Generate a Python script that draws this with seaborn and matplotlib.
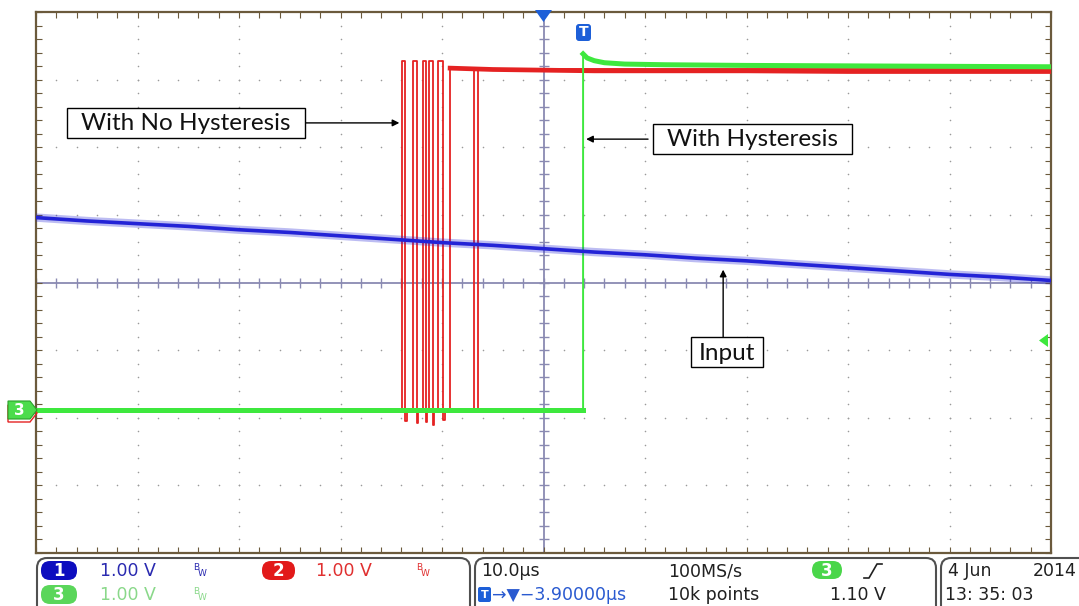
import numpy as np
import pandas as pd
import seaborn as sns
import matplotlib
matplotlib.use("Agg")
import matplotlib.pyplot as plt
from matplotlib.patches import FancyBboxPatch, Polygon, Rectangle

W, H = 1079, 606

# time in us (10 us/div), level in screen divisions (1 V/div)
LOW = -1.88
HIGH = 3.15

blue_t = [-50, -45, -40, -35, -30, -25, -20, -15, -10, -5, 0, 5, 10, 15, 20, 25, 30, 35, 40, 45, 50]
blue_v = [0.96, 0.91, 0.87, 0.83, 0.78, 0.74, 0.69, 0.64, 0.59, 0.55, 0.50, 0.45, 0.41, 0.36, 0.32, 0.27, 0.22, 0.17, 0.12, 0.08, 0.03]

# ch2 (no hysteresis) - step trace, dips after falling edges
red_t = [-50, -13.9, -13.6, -13.45, -12.9, -12.5, -12.35, -11.9, -11.6, -11.45, -11.25, -10.9,
         -10.75, -10.4, -9.9, -9.75, -9.2, -6.8, -6.5, 50]
red_v = [LOW, 3.27, -2.05, LOW, 3.27, -2.08, LOW, 3.27, -2.06, LOW, 3.27, -2.1,
         LOW, 3.27, -2.04, LOW, HIGH, LOW, HIGH, HIGH]
red_hi_t = [-9.2, -5, 0, 5, 10, 20, 30, 40, 50]
red_hi_v = [3.17, 3.15, 3.14, 3.13, 3.13, 3.13, 3.12, 3.12, 3.12]

# ch3 (with hysteresis)
green_t = [-50, 3.9, 3.9, 4.3, 5.0, 6.0, 8.0, 12.0, 20.0, 35.0, 50.0]
green_v = [LOW, LOW, 3.38, 3.32, 3.28, 3.25, 3.23, 3.22, 3.21, 3.20, 3.19]

BLUE = "#2323d6"
RED = "#e52222"
GREEN = "#3ee83e"
FRAME = "#6b5a3c"
CENTER = "#8a8ab2"

fig = plt.figure(figsize=(W / 100, H / 100), dpi=100)
ax = fig.add_axes([36 / W, 1 - 553 / H, (1051 - 36) / W, (553 - 12) / H])
ax.set_xlim(-50, 50)
ax.set_ylim(-4, 4)

# graticule
for gx in [-40, -30, -20, -10, 10, 20, 30, 40]:
    ax.scatter(np.full(41, gx), np.arange(-4, 4.01, 0.2), s=1.3, color="#9a9a9a", lw=0, zorder=1)
for gy in [-3, -2, -1, 1, 2, 3]:
    ax.scatter(np.arange(-50, 50.1, 2), np.full(51, gy), s=1.3, color="#9a9a9a", lw=0, zorder=1)
ax.axhline(0, color=CENTER, lw=1.3, zorder=1)
ax.axvline(0, color=CENTER, lw=1.3, zorder=1)
ax.plot(np.arange(-50, 50.1, 2), np.zeros(51), ls="none", marker="|", ms=7, color=CENTER, mew=1, zorder=1)
ax.plot(np.zeros(41), np.arange(-4, 4.01, 0.2), ls="none", marker="_", ms=7, color=CENTER, mew=1, zorder=1)

ax.set_xticks(np.arange(-50, 50.1, 2))
ax.set_yticks(np.arange(-4, 4.01, 0.2))
ax.tick_params(direction="in", length=4, color=FRAME, labelbottom=False, labelleft=False,
               top=True, right=True, bottom=True, left=True)
for s in ax.spines.values():
    s.set_color(FRAME)
    s.set_linewidth(1.6)

# traces
red = pd.DataFrame({"t": red_t, "v": red_v})
sns.lineplot(data=red, x="t", y="v", ax=ax, color=RED, lw=1.3, estimator=None, sort=False,
             drawstyle="steps-post", zorder=3)
sns.lineplot(x=red_hi_t, y=red_hi_v, ax=ax, color=RED, lw=3.4, estimator=None, sort=False, zorder=3)

green = pd.DataFrame({"t": green_t, "v": green_v})
sns.lineplot(data=green, x="t", y="v", ax=ax, color=GREEN, lw=1.4, estimator=None, sort=False, zorder=4)
sns.lineplot(data=green.iloc[:2], x="t", y="v", ax=ax, color=GREEN, lw=3.6, estimator=None, sort=False, zorder=4)
sns.lineplot(data=green.iloc[2:], x="t", y="v", ax=ax, color=GREEN, lw=3.6, estimator=None, sort=False, zorder=4)

blue = pd.DataFrame({"t": blue_t, "v": blue_v})
sns.lineplot(data=blue, x="t", y="v", ax=ax, color=BLUE, lw=6, alpha=0.3, estimator=None, sort=False, zorder=5)
sns.lineplot(data=blue, x="t", y="v", ax=ax, color=BLUE, lw=2.6, estimator=None, sort=False, zorder=5)
ax.set_xlabel("")
ax.set_ylabel("")

# arrows of the annotations
arr = dict(arrowstyle="-|>", color="black", lw=1, mutation_scale=10, shrinkA=0, shrinkB=0)
ax.annotate("", xy=(-14.2, 2.36), xytext=(-23.5, 2.36), arrowprops=arr, zorder=6)
ax.annotate("", xy=(4.2, 2.12), xytext=(10.3, 2.12), arrowprops=arr, zorder=6)
ax.annotate("", xy=(17.7, 0.19), xytext=(17.7, -0.81), arrowprops=arr, zorder=6)

# overlay in pixel coordinates for labels, scope markers and status bar
ov = fig.add_axes([0, 0, 1, 1])
ov.set_xlim(0, W)
ov.set_ylim(H, 0)
ov.axis("off")
ov.patch.set_alpha(0)

for (x0, y0, x1, y1), label in [((67, 108, 305, 138), "With No Hysteresis"),
                                 ((653, 124, 852, 154), "With Hysteresis"),
                                 ((691, 337, 763, 367), "Input")]:
    ov.add_patch(Rectangle((x0, y0), x1 - x0, y1 - y0, fc="white", ec="black", lw=1))
    ov.text((x0 + x1) / 2, (y0 + y1) / 2 + 1, label, ha="center", va="center", fontsize=17.5,
            family="Lato", color="#111111")

ov.add_patch(Polygon([(535, 10), (552, 10), (543.5, 22)], closed=True, fc="#1d5fd8", ec="none"))
ov.add_patch(FancyBboxPatch((576, 24), 15, 17, boxstyle="round,pad=0,rounding_size=3", fc="#1d5fd8", ec="none"))
ov.text(583.5, 32.5, "T", color="white", fontsize=10, fontweight="bold", ha="center", va="center")

ov.add_patch(Polygon([(8, 405), (30, 405), (37, 413), (30, 422), (8, 422)], closed=True, fc="none", ec=RED, lw=1))
ov.add_patch(Polygon([(8, 401), (30, 401), (37, 410), (30, 419), (8, 419)], closed=True, fc="#4cdc4c", ec="#2aa02a", lw=0.8))
ov.text(19, 410.5, "3", color="white", fontsize=11, fontweight="bold", ha="center", va="center")
ov.add_patch(Polygon([(1048, 334), (1048, 347), (1039, 340.5)], closed=True, fc=GREEN, ec="none"))

# status bar
for x0, x1 in [(37, 470), (475, 936), (941, 1090)]:
    ov.add_patch(FancyBboxPatch((x0, 558), x1 - x0, 60, boxstyle="round,pad=0,rounding_size=10",
                                fc="none", ec="#505050", lw=1.5))


def pill(x0, x1, y0, y1, color, label):
    ov.add_patch(FancyBboxPatch((x0, y0), x1 - x0, y1 - y0, boxstyle="round,pad=0,rounding_size=9",
                                fc=color, ec="none"))
    ov.text((x0 + x1) / 2, (y0 + y1) / 2 + 0.5, label, color="white", fontsize=12, fontweight="bold",
            ha="center", va="center")


pill(41, 77, 561, 580, "#0d0dbf", "1")
pill(262, 295, 561, 580, "#e21a1a", "2")
pill(41, 77, 585, 604, "#5ad65a", "3")
pill(812, 842, 561, 579, "#4ad64a", "3")

fs = 12.5
r1, r2 = 571, 595
ov.text(100, r1, "1.00 V", color="#2a2ab0", fontsize=fs, va="center")
ov.text(316, r1, "1.00 V", color="#e03030", fontsize=fs, va="center")
ov.text(100, r2, "1.00 V", color="#8ad88a", fontsize=fs, va="center")
for x, y, c in [(193, r1, "#2a2ab0"), (416, r1, "#e03030"), (193, r2, "#8ad88a")]:
    ov.text(x, y - 3, "B", color=c, fontsize=6.5, va="center")
    ov.text(x + 5, y + 2, "W", color=c, fontsize=6.5, va="center")

ov.text(481, r1, "10.0\u00b5s", color="#202020", fontsize=fs, va="center")
ov.add_patch(FancyBboxPatch((478, 587), 13, 15, boxstyle="round,pad=0,rounding_size=2", fc="#1d5fd8", ec="none"))
ov.text(484.5, 595, "T", color="white", fontsize=8, fontweight="bold", ha="center", va="center")
ov.text(492, r2, "\u2192\u25bc\u22123.90000\u00b5s", color="#2a5ad0", fontsize=fs, va="center")
ov.text(668, r1, "100MS/s", color="#202020", fontsize=fs, va="center")
ov.text(668, r2, "10k points", color="#202020", fontsize=fs, va="center")
ov.plot([864, 869, 877, 882], [578, 578, 564, 564], color="#202020", lw=1.2)
ov.text(830, r2, "1.10 V", color="#202020", fontsize=fs, va="center")
ov.text(948, r1, "4 Jun", color="#202020", fontsize=fs, va="center")
ov.text(1077, r1, "2014", color="#202020", fontsize=fs, va="center", ha="right")
ov.text(945, r2, "13: 35: 03", color="#202020", fontsize=fs, va="center")

fig.savefig("out.png", dpi=100)
